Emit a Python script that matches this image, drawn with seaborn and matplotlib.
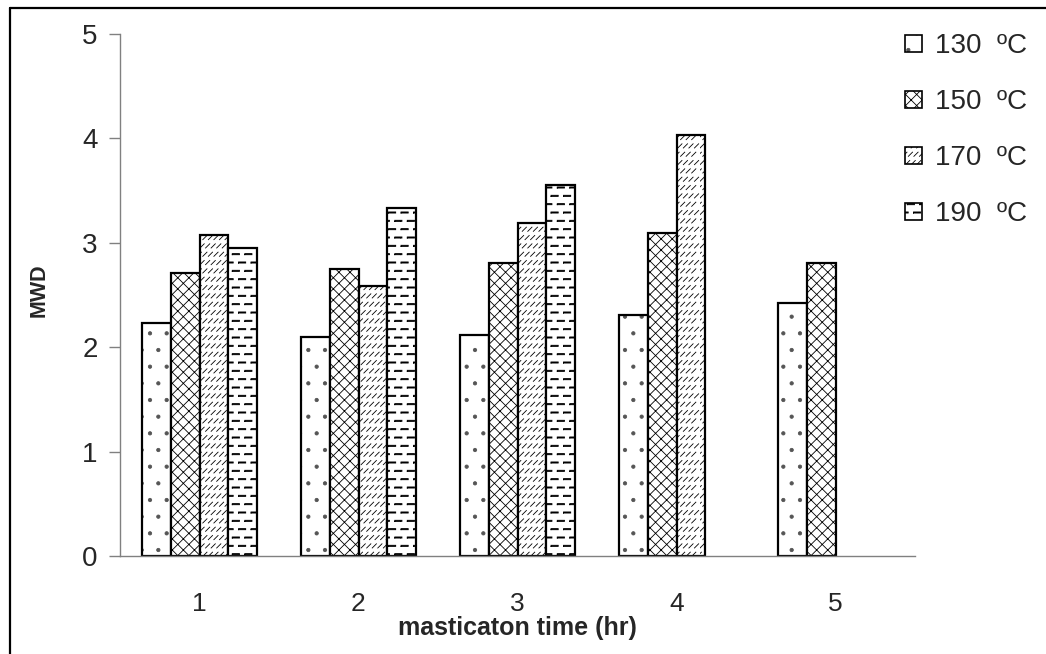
import warnings
import matplotlib
matplotlib.use("Agg")
import matplotlib.pyplot as plt
import matplotlib.hatch as mhatch
from matplotlib.colors import to_rgba
from matplotlib.path import Path
from matplotlib.patches import Patch
from matplotlib.lines import Line2D
import numpy as np
import pandas as pd
import seaborn as sns

warnings.filterwarnings("ignore")

# Mastication time (hr) and molecular weight distribution per temperature
times = ["1", "2", "3", "4", "5"]
temps = ["130  ºC", "150  ºC", "170  ºC", "190  ºC"]
mwd_130 = [2.23, 2.10, 2.12, 2.31, 2.42]
mwd_150 = [2.71, 2.75, 2.81, 3.09, 2.81]
mwd_170 = [3.07, 2.59, 3.19, 4.03, np.nan]
mwd_190 = [2.95, 3.33, 3.55, np.nan, np.nan]

# 's' = short slanted dashes, 'd' = staggered horizontal dashes
hatches = [".", "xxx", "s", "d"]
hatch_colors = ["#555555", "black", "black", "black"]


class _SegmentHatch(mhatch.HatchPatternBase):
    """Hatch built from a fixed list of polylines in the unit cell."""
    char = None

    def __init__(self, hatch, density):
        self.polys = self.build() if (self.char and self.char in hatch) else []
        self.num_vertices = sum(len(p) for p in self.polys)

    def build(self):
        return []

    def set_vertices_and_codes(self, vertices, codes):
        i = 0
        for p in self.polys:
            n = len(p)
            vertices[i:i + n] = p
            codes[i] = Path.MOVETO
            codes[i + 1:i + n] = Path.LINETO
            i += n


class SlantDashHatch(_SegmentHatch):
    char = "s"

    def build(self):
        polys = []
        rows, cols, d = 12, 18, 0.042
        for r in range(rows):
            for c in range(cols):
                x0 = c / cols + (0.5 / cols if r % 2 else 0.0)
                y0 = r / rows + 0.02
                if x0 + d > 1:
                    x0 -= 1
                polys.append(np.array([[x0, y0], [x0 + d, y0 + d]]))
        return polys


class HDashHatch(_SegmentHatch):
    char = "d"

    def build(self):
        polys = []
        rows, per, L, h = 12, 8, 0.072, 0.011
        for r in range(rows):
            y = (r + 0.5) / rows
            shift = 0.5 / per if r % 2 else 0.0
            for c in range(per):
                a = c / per + shift + 0.01
                b = a + L
                pieces = [(a, b)] if b <= 1 else [(a, 1.0), (0.0, b - 1)]
                for p0, p1 in pieces:
                    polys.append(np.array([[p0, y - h / 2], [p1, y - h / 2],
                                           [p1, y + h / 2], [p0, y + h / 2],
                                           [p0, y - h / 2]]))
        return polys


mhatch._hatch_types.extend([SlantDashHatch, HDashHatch])
mhatch.SmallCircles.size = 0.07

rows = []
for temp, vals in zip(temps, [mwd_130, mwd_150, mwd_170, mwd_190]):
    for t, v in zip(times, vals):
        rows.append({"time": t, "temp": temp, "MWD": v})
df = pd.DataFrame(rows)

sns.set_style("white")
plt.rcParams["font.family"] = ["Liberation Sans", "DejaVu Sans"]
plt.rcParams["hatch.linewidth"] = 0.6

fig = plt.figure(figsize=(10.46, 6.54), dpi=100)
ax = fig.add_axes([120 / 1046, 1 - 556 / 654, 795 / 1046, 522 / 654])

sns.barplot(data=df, x="time", y="MWD", hue="temp", order=times,
            hue_order=temps, palette=["white"] * 4, saturation=1,
            width=0.72, edgecolor="black", linewidth=1.6, errorbar=None,
            legend=False, ax=ax)

for cont, h, hc in zip(ax.containers, hatches, hatch_colors):
    for bar in cont:
        bar.set_hatch(h)
        bar._hatch_color = to_rgba(hc)

ax.set_xlim(-0.5, len(times) - 0.5)
ax.set_ylim(0, 5)
ax.set_yticks(range(0, 6))

# category boundaries get tick marks, centers get the labels
ax.set_xticks(np.arange(-0.5, len(times)), labels=[""] * (len(times) + 1))
ax.set_xticks(range(len(times)), labels=times, minor=True)
ax.tick_params(axis="x", which="major", direction="out", length=6,
               width=1, color="#808080")
ax.tick_params(axis="x", which="minor", length=0, pad=26, labelsize=19)
ax.tick_params(axis="y", direction="out", length=8, width=1,
               color="#808080", pad=8, labelsize=20, left=True)

for side in ["top", "right"]:
    ax.spines[side].set_visible(False)
for side in ["left", "bottom"]:
    ax.spines[side].set_color("#808080")
    ax.spines[side].set_linewidth(1.0)

ax.set_xlabel("masticaton time (hr)", fontsize=18, fontweight="bold",
              labelpad=0)
ax.set_ylabel("MWD", fontsize=15.5, fontweight="bold")
ax.yaxis.set_label_coords(-0.088, 0.51)

handles = []
for t, h, hc in zip(temps, hatches, hatch_colors):
    p = Patch(facecolor="white", edgecolor="black", hatch=h,
              linewidth=1.2, label=t)
    p._hatch_color = to_rgba(hc)
    handles.append(p)
leg = fig.legend(handles=handles, loc="upper left",
                 bbox_to_anchor=(894 / 1046, 1 - 22 / 654), frameon=False,
                 fontsize=20, handlelength=0.61, handleheight=0.54,
                 handletextpad=0.47, labelspacing=1.08, borderaxespad=0)
for lp, hc in zip(leg.get_patches(), hatch_colors):
    lp._hatch_color = to_rgba(hc)

# outer frame of the figure
fig.add_artist(Line2D([10 / 1046, 10 / 1046], [0, 1 - 8 / 654],
                      transform=fig.transFigure, color="black", lw=1.6))
fig.add_artist(Line2D([10 / 1046, 1], [1 - 8 / 654, 1 - 8 / 654],
                      transform=fig.transFigure, color="black", lw=1.6))

fig.savefig("out.png", dpi=100)
